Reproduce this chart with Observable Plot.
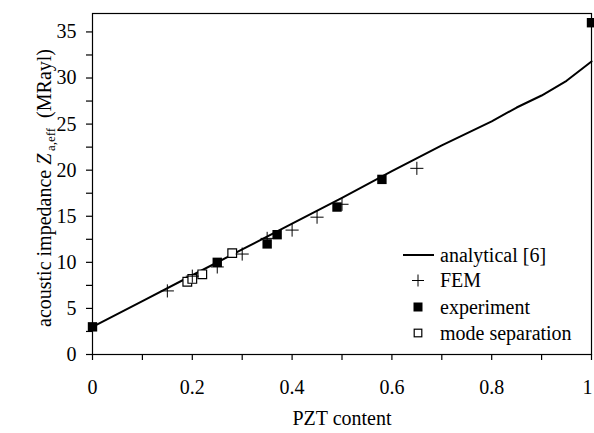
<!DOCTYPE html>
<html>
<head>
<meta charset="utf-8">
<script src="https://cdn.jsdelivr.net/npm/d3@7"></script>
<script src="https://cdn.jsdelivr.net/npm/@observablehq/plot@0.6"></script>
<style>
  html, body { margin: 0; padding: 0; background: #fff; }
  #chart svg { display: block; }
  #chart svg, #chart svg text, #chart svg tspan { font-family: "Liberation Serif", "Times New Roman", serif !important; }
</style>
</head>
<body>
<div id="chart"></div>
<script>
// ---- data ----
const analyticalX = [0, 0.1, 0.2, 0.3, 0.4, 0.5, 0.6, 0.7, 0.8, 0.85, 0.9, 0.95, 1.0];
const analyticalY = [3.0, 5.8, 8.6, 11.4, 14.2, 17.0, 19.9, 22.7, 25.3, 26.8, 28.1, 29.7, 31.8];

const femX = [0.15, 0.20, 0.25, 0.30, 0.35, 0.40, 0.45, 0.50, 0.65];
const femY = [6.9, 8.5, 9.5, 10.9, 12.6, 13.5, 14.9, 16.3, 20.2];

const experimentX = [0, 0.25, 0.35, 0.37, 0.49, 0.58, 1.0];
const experimentY = [3.0, 10.0, 12.0, 13.0, 16.0, 19.0, 36.0];

const modeSepX = [0.19, 0.20, 0.22, 0.28];
const modeSepY = [7.9, 8.2, 8.7, 11.0];

const xTicks = [0, 0.1, 0.2, 0.3, 0.4, 0.5, 0.6, 0.7, 0.8, 0.9, 1.0];
const yTicks = [0, 2.5, 5, 7.5, 10, 12.5, 15, 17.5, 20, 22.5, 25, 27.5, 30, 32.5, 35];

const seriesNames = ["analytical [6]", "FEM", "experiment", "mode separation"];

// ---- build tables ----
const zip = (xs, ys) => xs.map((x, i) => ({x, y: ys[i]}));
const analytical = zip(analyticalX, analyticalY);
const fem = zip(femX, femY);
const experiment = zip(experimentX, experimentY);
const modeSep = zip(modeSepX, modeSepY);

const FONT = "Liberation Serif";

const chart = Plot.plot({
  width: 594,
  height: 433,
  marginLeft: 92,
  marginRight: 3,
  marginTop: 13,
  marginBottom: 79,
  style: {fontFamily: FONT, fontSize: "20px", color: "black", background: "white"},
  x: {domain: [0, 1]},
  y: {domain: [0, 37]},
  marks: [
    Plot.frame({stroke: "black", strokeWidth: 1.2}),
    Plot.axisX({
      ticks: xTicks, tickSize: 6, tickPadding: 19, strokeWidth: 1.2,
      tickFormat: d => (Math.round(d * 10) % 2 === 0 ? d3.format("~g")(d) : ""),
      label: null
    }),
    Plot.axisY({
      ticks: yTicks, tickSize: 6, tickPadding: 10, strokeWidth: 1.2,
      tickFormat: d => (d % 5 === 0 ? d : ""),
      label: null
    }),
    Plot.line(analytical, {x: "x", y: "y", stroke: "black", strokeWidth: 2}),
    Plot.dot(modeSep, {x: "x", y: "y", symbol: "square", r: 4.9, fill: "white", stroke: "black", strokeWidth: 1.2}),
    Plot.dot(fem, {x: "x", y: "y", symbol: "plus", r: 4.3, stroke: "black", strokeWidth: 1}),
    Plot.dot(experiment, {x: "x", y: "y", symbol: "square", r: 5.3, fill: "black", stroke: "none"}),
    Plot.text(["PZT content"], {frameAnchor: "bottom", dy: 70, text: d => d, fontSize: 20})
  ]
});

document.getElementById("chart").appendChild(chart);

const svg = d3.select(chart);

// nudge the last x tick label ("1") so it is not cut at the right edge
svg.selectAll("text").filter(function () { return d3.select(this).text() === "1"; }).attr("dx", -4);

// ---- y axis title with italic Z and subscript ----
const t = svg.append("text")
  .attr("transform", "translate(51,188) rotate(-90)")
  .attr("text-anchor", "middle")
  .attr("font-size", 20)
  .attr("fill", "black");
t.append("tspan").text("acoustic impedance ");
t.append("tspan").attr("font-style", "italic").text("Z");
t.append("tspan").attr("font-size", 13).attr("dy", 4).text("\u2009a,eff");
t.append("tspan").attr("dy", -4).text("\u00a0\u00a0(MRayl)");

// ---- legend ----
const rows = [255, 280.5, 307, 333];
const lg = svg.append("g").attr("font-size", 20).attr("fill", "black").attr("text-anchor", "start");
rows.forEach((ry, i) => {
  lg.append("text").attr("x", 440).attr("y", ry).attr("dy", "0.33em").attr("text-anchor", "start").text(seriesNames[i]);
});
lg.append("line").attr("x1", 403).attr("x2", 434).attr("y1", rows[0]).attr("y2", rows[0])
  .attr("stroke", "black").attr("stroke-width", 2);
lg.append("path").attr("d", `M${418 - 6},${rows[1]}H${418 + 6}M418,${rows[1] - 6}V${rows[1] + 6}`)
  .attr("stroke", "black").attr("stroke-width", 1).attr("fill", "none");
lg.append("rect").attr("x", 418 - 4.5).attr("y", rows[2] - 4.5).attr("width", 9).attr("height", 9).attr("fill", "black");
lg.append("rect").attr("x", 418 - 3.8).attr("y", rows[3] - 3.8).attr("width", 7.6).attr("height", 7.6)
  .attr("fill", "white").attr("stroke", "black").attr("stroke-width", 1.2);
</script>
</body>
</html>
